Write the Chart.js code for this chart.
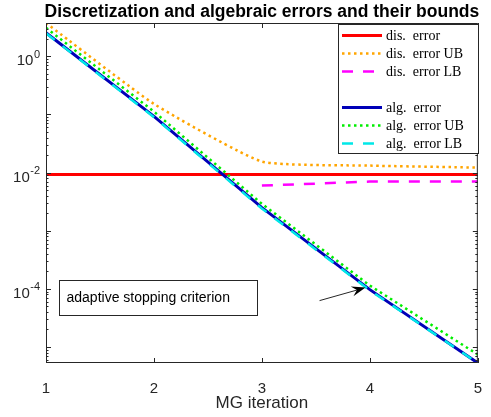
<!DOCTYPE html>
<html>
<head>
<meta charset="utf-8">
<script src="https://cdn.jsdelivr.net/npm/chart.js@4"></script>
<style>
  body { margin: 0; background: #fff; }
  canvas { display: block; }
</style>
</head>
<body>
<canvas id="errChart" width="491" height="417"></canvas>
<script>
// data
const iterations = [1, 2, 3, 4, 5]
const disError = [0.00924, 0.00924, 0.00924, 0.00924, 0.00924]
const disErrorUB = [3.75, 0.152, 0.0155, 0.0132, 0.0122]
const disErrorLB = [null, null, 0.00598, 0.0070, 0.0070]
const algError = [2.55, 0.093, 0.0025, 9.7e-5, 5.3e-6]
const algErrorUB = [3.1, 0.112, 0.0029, 1.14e-4, 7.4e-6]
const algErrorLB = [2.5, 0.09, 0.0024, 9.4e-5, 5.3e-6]
const yLabelExponents = [0, -2, -4]
const legendLabels = ["dis.  error", "dis.  error UB", "dis.  error LB", "", "alg.  error", "alg.  error UB", "alg.  error LB"]

const SANS = '"Liberation Sans", Arial, sans-serif'
const SERIF = '"Liberation Serif", "Times New Roman", serif'

function series(values) {
  return values.map((v, i) => ({ x: iterations[i], y: v }))
}

const datasets = [
  { label: legendLabels[0], data: series(disError), borderColor: "#ff0000", borderWidth: 3, order: 6 },
  { label: legendLabels[1], data: series(disErrorUB), borderColor: "#ffa500", borderWidth: 2.5, borderDash: [2.5, 3.5], tension: 0.15, order: 5 },
  { label: legendLabels[2], data: series(disErrorLB), borderColor: "#ff00ff", borderWidth: 2.5, borderDash: [11, 10], order: 4 },
  { label: legendLabels[4], data: series(algError), borderColor: "#0000b8", borderWidth: 3, order: 3 },
  { label: legendLabels[5], data: series(algErrorUB), borderColor: "#00ee00", borderWidth: 2.5, borderDash: [2.5, 3.5], order: 2 },
  { label: legendLabels[6], data: series(algErrorLB), borderColor: "#00e8e8", borderWidth: 2.5, borderDash: [11, 10], order: 1 },
]
datasets.forEach((d) => {
  d.pointRadius = 0
  d.fill = false
  d.spanGaps = false
})

// matlab-like decorations: box, inner ticks, title, y labels, legend, annotation
const decorations = {
  id: "decorations",
  afterDraw(chart) {
    const ctx = chart.ctx
    const a = chart.chartArea
    const xs = chart.scales.x
    const ys = chart.scales.y
    ctx.save()

    // axes box
    ctx.strokeStyle = "#262626"
    ctx.lineWidth = 1
    ctx.strokeRect(a.left + 0.5, a.top + 0.5, a.right - a.left - 1, a.bottom - a.top - 1)

    // y ticks (inside, both sides)
    ctx.beginPath()
    for (let e = -6; e <= 1; e++) {
      for (let m = 1; m <= 9; m++) {
        const v = m * Math.pow(10, e)
        if (v < ys.min || v > ys.max) continue
        const y = Math.round(ys.getPixelForValue(v)) + 0.5
        const len = m === 1 ? 5 : 2.5
        ctx.moveTo(a.left, y); ctx.lineTo(a.left + len, y)
        ctx.moveTo(a.right, y); ctx.lineTo(a.right - len, y)
      }
    }
    // x ticks
    iterations.forEach((it) => {
      const x = Math.round(xs.getPixelForValue(it)) + 0.5
      ctx.moveTo(x, a.bottom); ctx.lineTo(x, a.bottom - 5)
      ctx.moveTo(x, a.top); ctx.lineTo(x, a.top + 5)
    })
    ctx.stroke()

    // y tick labels 10^k
    ctx.fillStyle = "#262626"
    ctx.textAlign = "right"
    ctx.textBaseline = "alphabetic"
    yLabelExponents.forEach((e) => {
      const y = ys.getPixelForValue(Math.pow(10, e))
      const exp = String(e)
      ctx.font = "11px " + SANS
      const w = ctx.measureText(exp).width
      ctx.fillText(exp, 40, y + 1.5)
      ctx.font = "15px " + SANS
      ctx.fillText("10", 40 - w - 0.5, y + 9)
    })

    // title
    ctx.fillStyle = "#000"
    ctx.textAlign = "center"
    ctx.font = "bold 17.5px " + SANS
    ctx.fillText("Discretization and algebraic errors and their bounds", (a.left + a.right) / 2, 17)

    // legend
    const lx = 338.5, ly = 24.5, lw = 140, lh = 129
    ctx.fillStyle = "#fff"
    ctx.fillRect(lx, ly, lw, lh)
    ctx.strokeStyle = "#262626"
    ctx.lineWidth = 1
    ctx.strokeRect(lx, ly, lw, lh)
    let di = 0
    legendLabels.forEach((label, i) => {
      const y = 35.5 + i * 18
      if (!label) return
      const ds = chart.data.datasets[di++]
      ctx.save()
      ctx.strokeStyle = ds.borderColor
      ctx.lineWidth = ds.borderWidth
      ctx.setLineDash(ds.borderDash || [])
      ctx.beginPath()
      ctx.moveTo(342, y)
      ctx.lineTo(382, y)
      ctx.stroke()
      ctx.restore()
      ctx.fillStyle = "#000"
      ctx.textAlign = "left"
      ctx.font = "14px " + SERIF
      ctx.fillText(label, 386, y + 4.5)
    })

    // annotation box
    ctx.fillStyle = "#fff"
    ctx.fillRect(59.5, 280.5, 198, 35)
    ctx.strokeStyle = "#262626"
    ctx.strokeRect(59.5, 280.5, 198, 35)
    ctx.fillStyle = "#000"
    ctx.textAlign = "left"
    ctx.font = "14px " + SANS
    ctx.fillText("adaptive stopping criterion", 66.5, 302)

    // arrow pointing to the alg. error at iteration 4
    const tx = xs.getPixelForValue(3.96)
    const ty = ys.getPixelForValue(1.05e-4)
    const sx = tx - 46, sy = ty + 13
    const ang = Math.atan2(ty - sy, tx - sx)
    const c = Math.cos(ang), s = Math.sin(ang)
    ctx.strokeStyle = "#262626"
    ctx.lineWidth = 1
    ctx.beginPath()
    ctx.moveTo(sx, sy)
    ctx.lineTo(tx - 9 * c, ty - 9 * s)
    ctx.stroke()
    ctx.fillStyle = "#000"
    ctx.beginPath()
    ctx.moveTo(tx, ty)
    ctx.lineTo(tx - 14 * c + 5 * s, ty - 14 * s - 5 * c)
    ctx.lineTo(tx - 9 * c, ty - 9 * s)
    ctx.lineTo(tx - 14 * c - 5 * s, ty - 14 * s + 5 * c)
    ctx.closePath()
    ctx.fill()

    ctx.restore()
  },
}

new Chart(document.getElementById("errChart"), {
  type: "line",
  data: { datasets },
  options: {
    responsive: false,
    animation: false,
    devicePixelRatio: 1,
    layout: { padding: { top: 23, right: 10, left: 0, bottom: 0 } },
    plugins: {
      legend: { display: false },
      title: { display: false },
      tooltip: { enabled: false },
    },
    scales: {
      x: {
        type: "linear",
        min: 1,
        max: 5,
        grid: { display: false },
        border: { display: false },
        ticks: {
          stepSize: 1,
          padding: 9,
          color: "#262626",
          font: { family: SANS, size: 15 },
          callback: (v) => (Number.isInteger(v) ? v : ""),
        },
        title: {
          display: true,
          text: "MG iteration",
          color: "#262626",
          font: { family: SANS, size: 17 },
          padding: { top: 0, bottom: 3 },
        },
        afterFit: (s) => { s.height = 54 },
      },
      y: {
        type: "logarithmic",
        min: 5.3e-6,
        max: 3.75,
        grid: { display: false },
        border: { display: false },
        ticks: { display: false },
        afterFit: (s) => { s.width = 46 },
      },
    },
  },
  plugins: [decorations],
})
</script>
</body>
</html>
